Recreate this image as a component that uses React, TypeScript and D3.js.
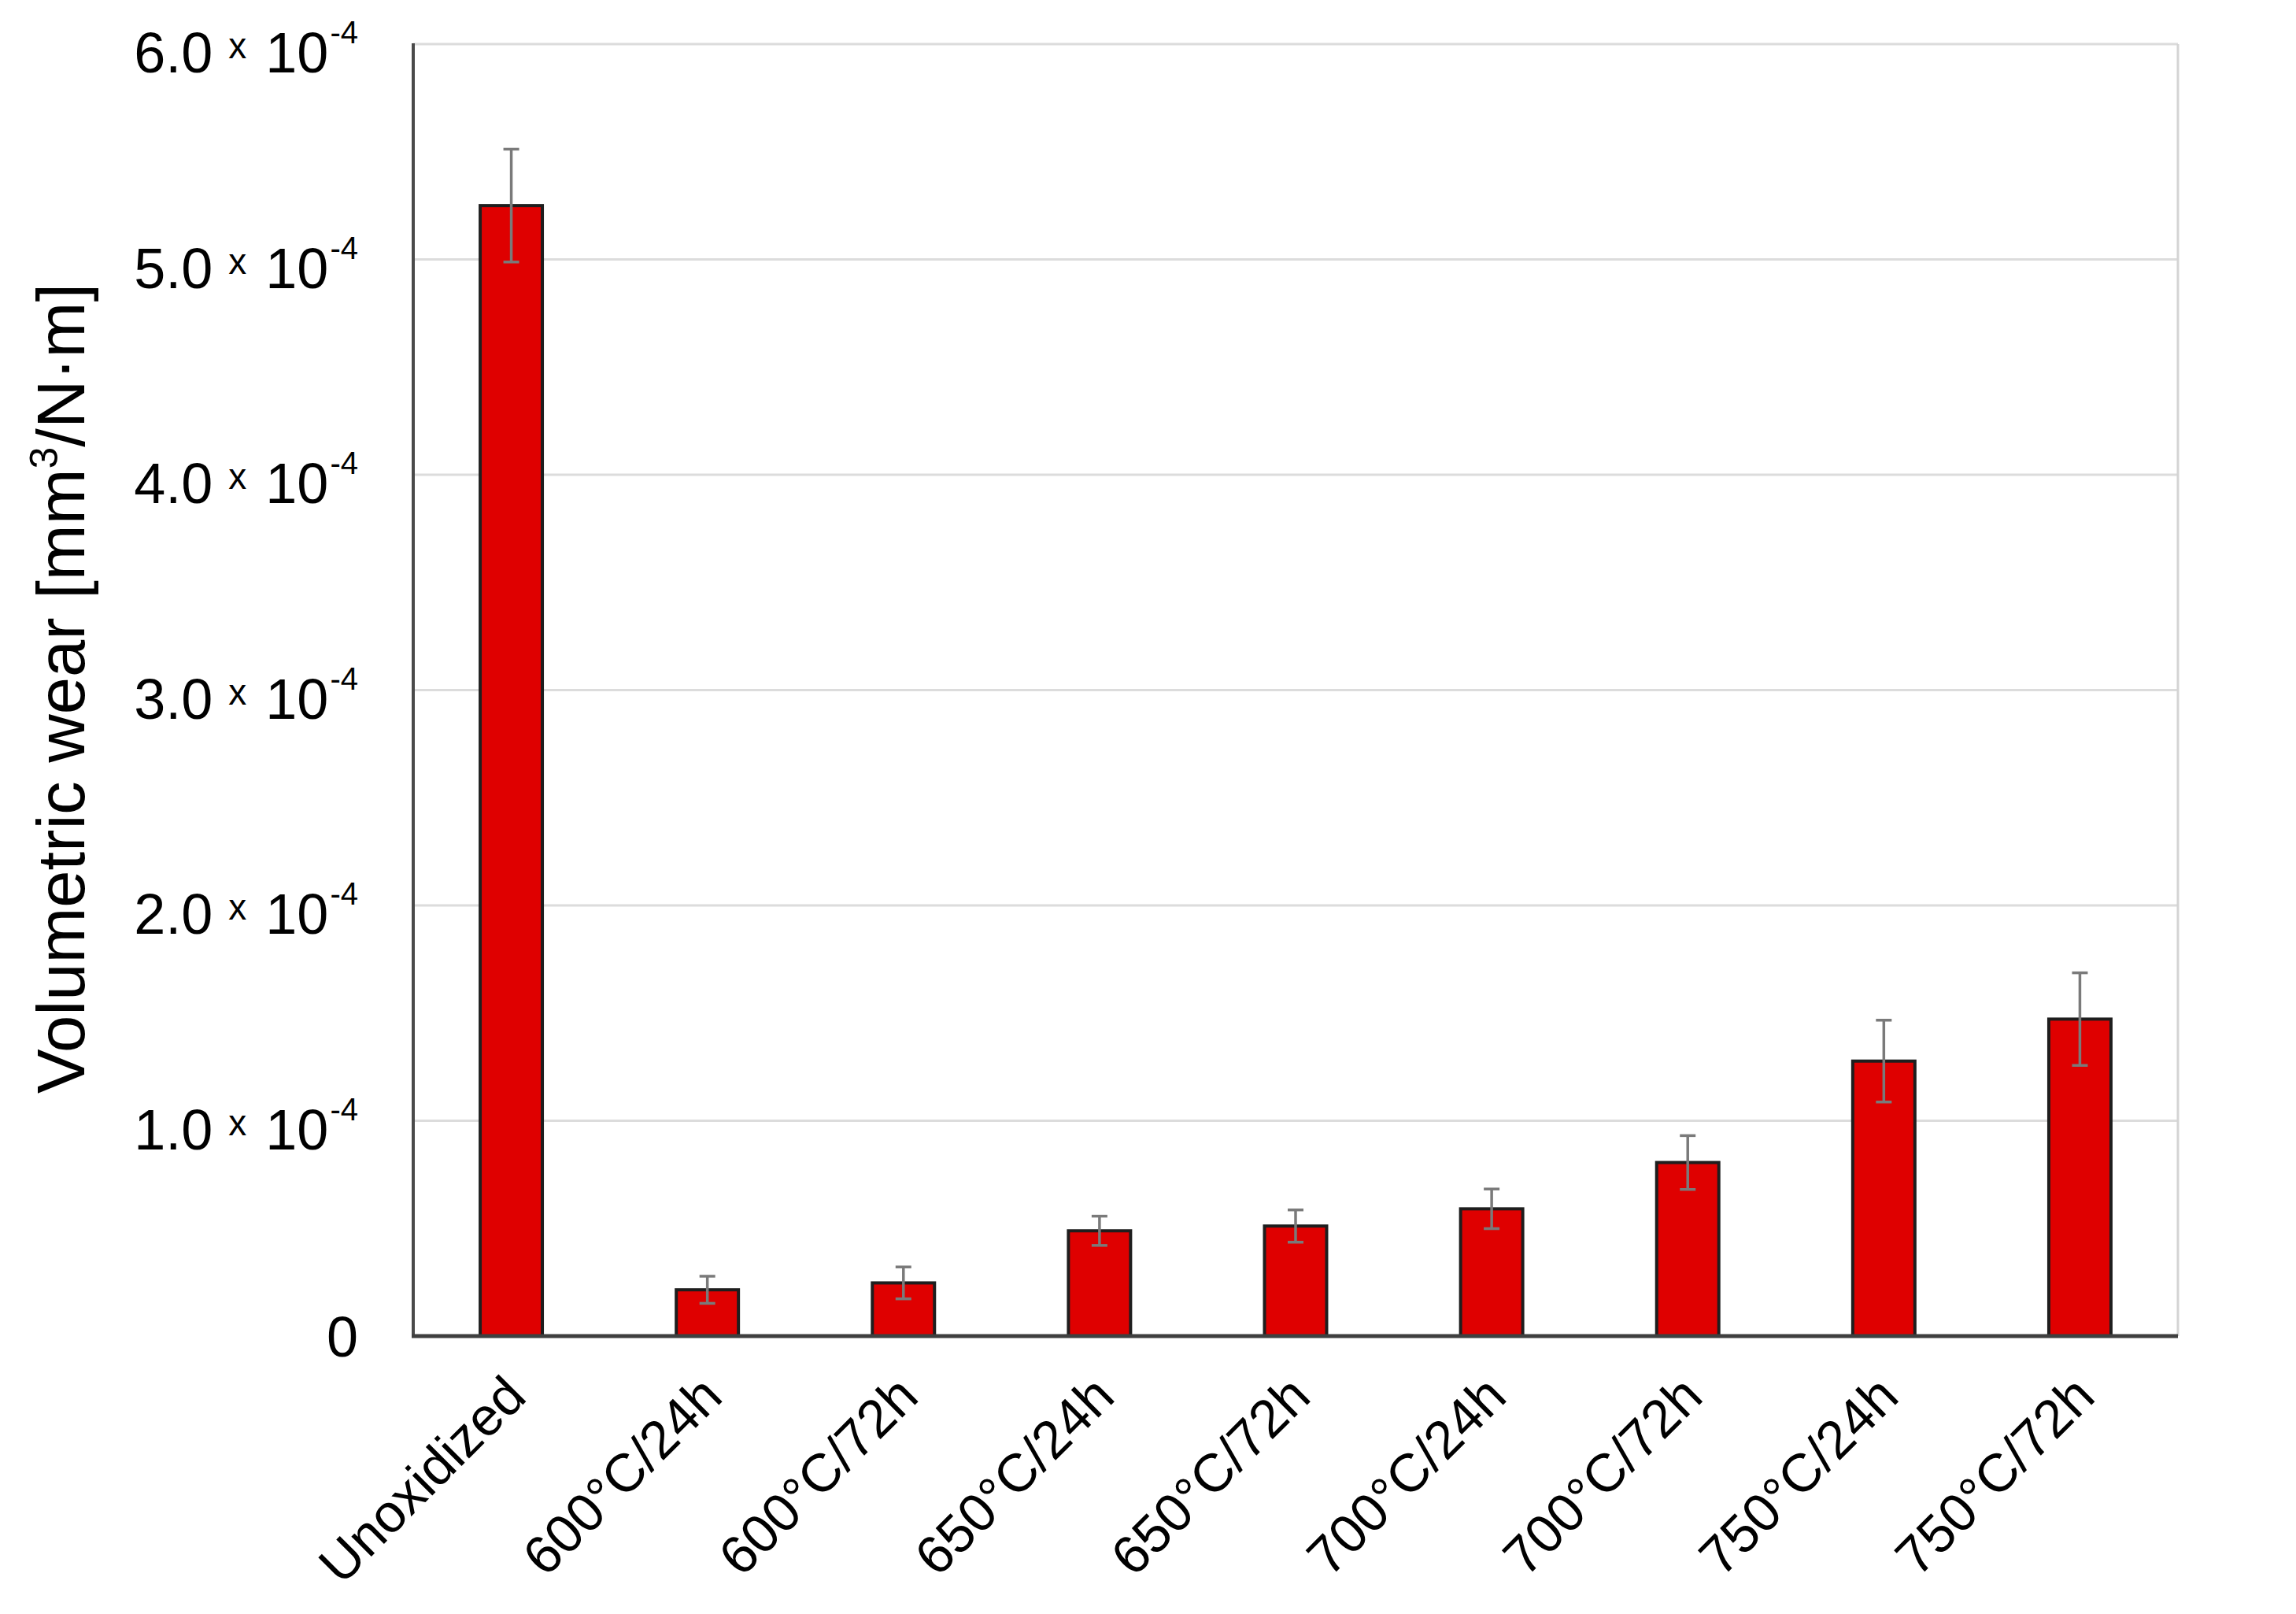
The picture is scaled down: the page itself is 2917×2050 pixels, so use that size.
import React from "react";
import * as d3 from "d3";

const categories = [
  "Unoxidized",
  "600°C/24h",
  "600°C/72h",
  "650°C/24h",
  "650°C/72h",
  "700°C/24h",
  "700°C/72h",
  "750°C/24h",
  "750°C/72h",
];
const wear = [5.25e-4, 0.215e-4, 0.247e-4, 0.489e-4, 0.511e-4, 0.591e-4, 0.806e-4, 1.277e-4, 1.472e-4];
const wearErr = [0.262e-4, 0.063e-4, 0.074e-4, 0.068e-4, 0.075e-4, 0.092e-4, 0.125e-4, 0.19e-4, 0.215e-4];
const yTicks = [0, 1e-4, 2e-4, 3e-4, 4e-4, 5e-4, 6e-4];
const yTickMantissa = ["0", "1.0", "2.0", "3.0", "4.0", "5.0", "6.0"];
const yTickExponent = "-4";

const W = 2917;
const H = 2050;
const left = 525;
const right = 2767;
const top = 56;
const bottom = 1697;
const FONT = "'Liberation Sans', Arial, Helvetica, sans-serif";

export default function App() {
  const x = d3
    .scaleBand<string>()
    .domain(categories)
    .range([left, right])
    .paddingInner(0.683)
    .paddingOuter(0.3415);
  const y = d3.scaleLinear().domain([0, 6e-4]).range([bottom, top]);
  const bw = x.bandwidth();

  return (
    <svg
      width={W}
      height={H}
      style={{ position: "absolute", left: 0, top: 0, background: "#fff" }}
      fontFamily={FONT}
    >
      <rect x={0} y={0} width={W} height={H} fill="#fff" />
      {/* gridlines */}
      {yTicks.slice(1).map((t, i) => (
        <line key={"g" + i} x1={left} x2={right} y1={y(t)} y2={y(t)} stroke="#dcdcdc" strokeWidth={3} />
      ))}
      {/* right border */}
      <line x1={right} x2={right} y1={top} y2={bottom} stroke="#d4d4d4" strokeWidth={3} />

      {/* bars */}
      {categories.map((c, i) => (
        <rect
          key={"b" + i}
          x={x(c)!}
          y={y(wear[i])}
          width={bw}
          height={bottom - y(wear[i])}
          fill="#df0000"
          stroke="#1e1e1e"
          strokeWidth={4}
        />
      ))}
      {/* error bars */}
      {categories.map((c, i) => {
        const cx = x(c)! + bw / 2;
        const y1 = y(wear[i] + wearErr[i]);
        const y2 = y(wear[i] - wearErr[i]);
        return (
          <g key={"e" + i} stroke="#7a7a7a" strokeWidth={3.5}>
            <line x1={cx} x2={cx} y1={y1} y2={y2} />
            <line x1={cx - 10} x2={cx + 10} y1={y1} y2={y1} />
            <line x1={cx - 10} x2={cx + 10} y1={y2} y2={y2} />
          </g>
        );
      })}

      {/* axes */}
      <line x1={left} x2={left} y1={top - 1} y2={bottom} stroke="#4a4a4a" strokeWidth={4} />
      <line x1={left - 2} x2={right} y1={bottom} y2={bottom} stroke="#3f3f3f" strokeWidth={5} />

      {/* y tick labels */}
      {yTicks.map((t, i) =>
        t === 0 ? (
          <text key={"yt" + i} x={455} y={y(t) + 26} fontSize={72} textAnchor="end" fill="#000">
            {yTickMantissa[i]}
          </text>
        ) : (
          <text key={"yt" + i} x={455} y={y(t) + 36} fontSize={72} textAnchor="end" fill="#000">
            <tspan>{yTickMantissa[i]}</tspan>
            <tspan fontSize={46} dx={20} dy={-18}>x</tspan>
            <tspan fontSize={72} dx={24} dy={18}>10</tspan>
            <tspan fontSize={40} dx={2} dy={-37}>{yTickExponent}</tspan>
          </text>
        )
      )}

      {/* x tick labels */}
      {categories.map((c, i) => {
        const cx = x(c)! + bw / 2 + 22;
        const ty = bottom + 80;
        return (
          <text
            key={"xt" + i}
            x={cx}
            y={ty}
            fontSize={68}
            textAnchor="end"
            transform={`rotate(-45 ${cx} ${ty})`}
            fill="#000"
          >
            {c}
          </text>
        );
      })}

      {/* y axis title */}
      <text
        x={0}
        y={0}
        fontSize={85}
        textAnchor="middle"
        transform={`translate(107 ${(top + bottom) / 2 - 2}) rotate(-90)`}
        fill="#000"
      >
        <tspan>Volumetric wear [mm</tspan>
        <tspan fontSize={50} dy={-34}>3</tspan>
        <tspan dy={34}>/N·m]</tspan>
      </text>
    </svg>
  );
}
